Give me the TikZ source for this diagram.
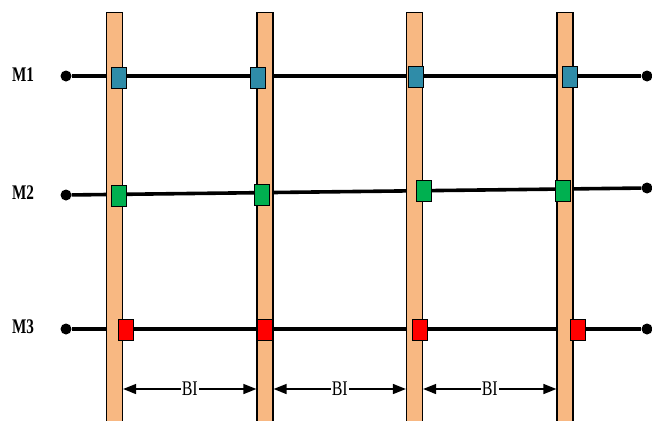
\documentclass[tikz,border=0pt]{standalone}
\usepackage{fontspec}
\setmainfont{Liberation Serif}
\usetikzlibrary{arrows.meta}
\definecolor{postfill}{HTML}{F8B882}
\definecolor{sqblue}{HTML}{2F8CA8}
\definecolor{sqgreen}{HTML}{00B050}
\definecolor{sqred}{HTML}{FF0000}
\tikzset{
  post/.style={draw=black, line width=1.2pt, fill=postfill, minimum width=16pt, inner sep=0pt, anchor=north},
  wire/.style={line width=3.6pt, black},
  dot/.style={circle, fill=black, inner sep=0pt, minimum size=11pt},
  sq/.style={draw=black, line width=0.9pt, minimum width=15pt, minimum height=21pt, inner sep=0pt},
  lab/.style={font=\fontsize{16}{16}\selectfont\bfseries},
  bi/.style={{Triangle[length=13pt,width=10pt]}-{Triangle[length=13pt,width=10pt]}, line width=1.4pt},
  bilab/.style={fill=white, inner sep=1pt, font=\fontsize{16}{16}\selectfont}
}
\begin{document}
\begin{tikzpicture}[x=1pt,y=-1pt]
\useasboundingbox (0,0) rectangle (652,420);
\clip (0,0) rectangle (652,420);
% wires
\node[dot] (l1) at (66,76) {};
\node[dot] (r1) at (647,76) {};
\node[dot] (l2) at (66,195) {};
\node[dot] (r2) at (647,188) {};
\node[dot] (l3) at (66,329) {};
\node[dot] (r3) at (647,329) {};
\draw[wire] (l1) -- (r1);
\draw[wire] (l2) -- (r2);
\draw[wire] (l3) -- (r3);
% posts
\node[post, minimum height=440pt] (p1) at (114.5,12) {};
\node[post, minimum height=440pt] (p2) at (265,12) {};
\node[post, minimum height=440pt] (p3) at (414.5,12) {};
\node[post, minimum height=440pt] (p4) at (565,12) {};
% squares
\node[sq, fill=sqblue] (b1) at (118.5,77.5) {};
\node[sq, fill=sqblue] (b2) at (258,77.5) {};
\node[sq, fill=sqblue] (b3) at (415.5,77) {};
\node[sq, fill=sqblue] (b4) at (569.5,77) {};
\node[sq, fill=sqgreen] (g1) at (118.5,195.5) {};
\node[sq, fill=sqgreen] (g2) at (262,194.5) {};
\node[sq, fill=sqgreen] (g3) at (423.5,190.5) {};
\node[sq, fill=sqgreen] (g4) at (562.5,190.5) {};
\node[sq, fill=sqred] (r31) at (126,330) {};
\node[sq, fill=sqred] (r32) at (265,330) {};
\node[sq, fill=sqred] (r33) at (420,330) {};
\node[sq, fill=sqred] (r34) at (577.5,329.5) {};
% labels
\node[lab] (m1) at (23,75) {\scalebox{0.95}[1.3]{M1}};
\node[lab] (m2) at (23,193) {\scalebox{0.95}[1.3]{M2}};
\node[lab] (m3) at (23,327) {\scalebox{0.95}[1.3]{M3}};
% BI arrows
\coordinate (ay) at (0,389);
\draw[bi] (p1.east |- ay) -- node[bilab] {\scalebox{1}[1.3]{BI}} (p2.west |- ay);
\draw[bi] (p2.east |- ay) -- node[bilab] {\scalebox{1}[1.3]{BI}} (p3.west |- ay);
\draw[bi] (p3.east |- ay) -- node[bilab] {\scalebox{1}[1.3]{BI}} (p4.west |- ay);
\end{tikzpicture}
\end{document}
